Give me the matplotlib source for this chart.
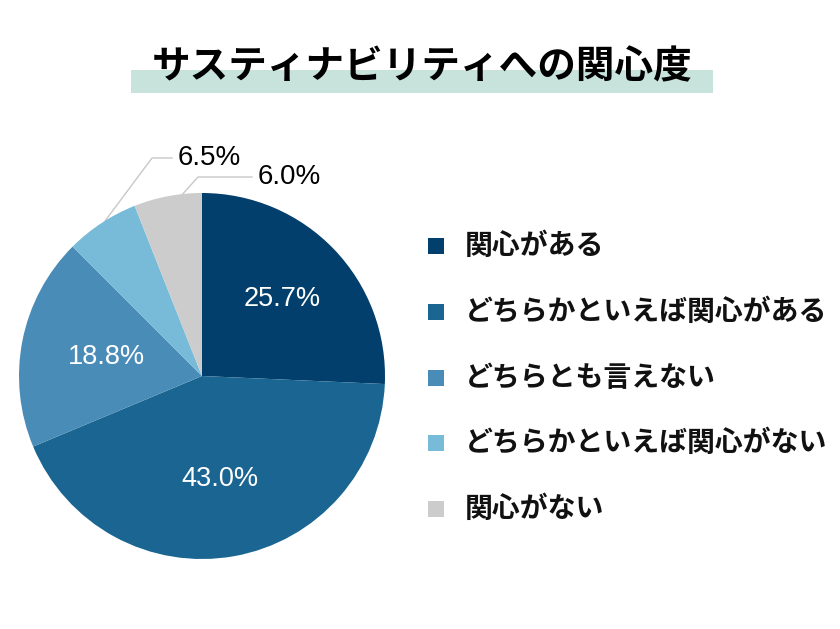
import matplotlib
matplotlib.use("Agg")
import numpy as np
import matplotlib.pyplot as plt
from matplotlib.patches import Rectangle

plt.rcParams['font.family'] = ['Noto Sans CJK JP', 'DejaVu Sans']

title = "サスティナビリティへの関心度"
labels = ["関心がある", "どちらかといえば関心がある", "どちらとも言えない",
          "どちらかといえば関心がない", "関心がない"]
values = [25.7, 43.0, 18.8, 6.5, 6.0]
colors = ["#033f6c", "#1a6591", "#4a8cb8", "#78bbd9", "#cccccc"]

W, H = 840, 629


def py(y):
    # pixel row (from top) -> data y
    return H - y


fig = plt.figure(figsize=(8.4, 6.29), dpi=100)
ax = fig.add_axes([0, 0, 1, 1])
ax.set_xlim(0, W)
ax.set_ylim(0, H)
ax.set_aspect("equal")
ax.axis("off")

# title with highlight band
ax.add_patch(Rectangle((131, py(93)), 582, 23, color="#c8e3dc", lw=0, zorder=1))
ax.text(422, py(67), title, fontsize=27.8, fontweight="bold", ha="center",
        va="center", color="black", zorder=2)

# pie
cx, cy, r = 202, py(376), 183
wedges, _ = ax.pie(values, colors=colors, startangle=90, counterclock=False,
                   center=(cx, cy), radius=r, frame=True,
                   wedgeprops=dict(linewidth=0))
ax.set_xlim(0, W)
ax.set_ylim(0, H)
ax.axis("off")

# inside labels
inside_r = [0.61, 0.57, 0.53]
for w, v, f in zip(wedges[:3], values[:3], inside_r):
    a = np.deg2rad((w.theta1 + w.theta2) / 2)
    ax.text(cx + f * r * np.cos(a), cy + f * r * np.sin(a), f"{v:.1f}%",
            fontsize=19.5, color="white", ha="center", va="center",
            family="Liberation Sans")

# outside labels with leader lines
frac = [0.56, 0.72]
elbows = [(152, py(158)), (198, py(177))]
ends = [172, 252]
for w, v, fr, (ex, ey), xe in zip(wedges[3:], values[3:], frac, elbows, ends):
    a = np.deg2rad(w.theta2 - fr * (w.theta2 - w.theta1))
    sx, sy = cx + r * np.cos(a), cy + r * np.sin(a)
    ax.plot([sx, ex, xe], [sy, ey, ey], color="#c8c8c8", lw=1, zorder=0)
    ax.text(xe + 6, ey, f"{v:.1f}%", fontsize=20, color="black",
            ha="left", va="center", family="Liberation Sans")

# legend
row0, step = 246, 65.8
for i, (lab, c) in enumerate(zip(labels, colors)):
    yy = py(row0 + i * step)
    ax.add_patch(Rectangle((428, yy - 8), 16, 16, color=c, lw=0))
    ax.text(465, yy, lab, fontsize=20.1, fontweight="bold", ha="left",
            va="center", color="#111111")

fig.savefig("out.png", dpi=100)
